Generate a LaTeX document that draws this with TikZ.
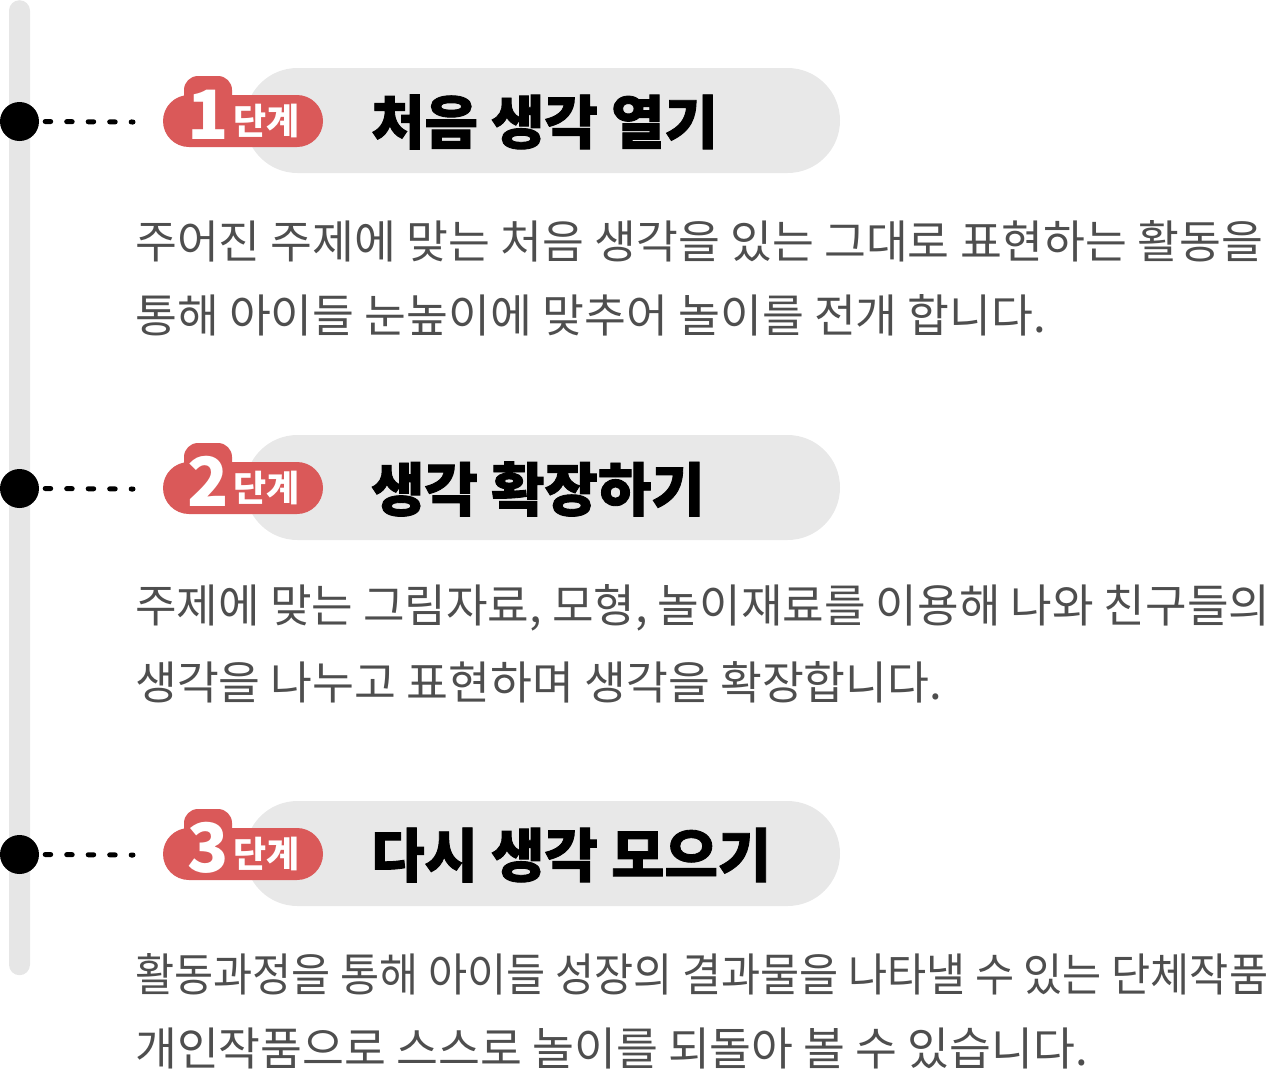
\documentclass[tikz,border=0pt]{standalone}
\usepackage{graphicx}
\usepackage{fontspec}
\newfontfamily\kr{Noto Sans CJK KR}
\newfontfamily\krheavy[BoldFeatures={FakeBold=1.5}]{Noto Sans CJK KR}
\definecolor{bargray}{HTML}{E6E6E6}
\definecolor{pillgray}{HTML}{E8E8E8}
\definecolor{badgered}{HTML}{DA5959}
\definecolor{bodygray}{HTML}{4E4E4E}
\tikzset{
  bar/.style={fill=bargray, rounded corners=10.5, minimum width=21, minimum height=975, inner sep=0, anchor=north},
  pill/.style={fill=pillgray, rounded corners=52.5, minimum width=595, minimum height=105, inner sep=0},
  badge/.style={fill=badgered, rounded corners=26, minimum width=160, minimum height=52, inner sep=0},
  digitback/.style={fill=badgered, rounded corners=14, minimum width=48, minimum height=70, inner sep=0},
  dotnode/.style={circle, fill=black, minimum size=39, inner sep=0},
  leader/.style={line width=5, line cap=round, dash pattern=on 5.5 off 16},
  digit/.style={font=\kr\bfseries\fontsize{68}{68}\selectfont, text=white, anchor=base, inner sep=0},
  stagelabel/.style={font=\kr\bfseries\fontsize{36}{36}\selectfont, text=white, anchor=west, inner sep=0},
  titletext/.style={font=\krheavy\bfseries\fontsize{58}{64}\selectfont, text=black, anchor=west, inner sep=0},
  bodytext/.style={font=\kr\fontsize{45.5}{52}\selectfont, text=bodygray, anchor=west, inner sep=0},
}
\begin{document}
\begin{tikzpicture}[x=1pt,y=-1pt]
\useasboundingbox (0,0) rectangle (1272,1069);
\node[bar] (bar) at (19.5,0) {};
% stage 1
\begin{scope}
  \node[pill] (p1) at (542.5,120.5) {};
  \node[badge] (b1) at (243,121) {};
  \node[digitback] (k1) at (208,111) {};
  \node[digit] (d1) at (208,139) {1};
  \node[stagelabel] (s1) at (233,121) {단계};
  \node[titletext] (t1) at (371,122) {처음 생각 열기};
  \node[dotnode] (c1) at (19.5,121.5) {};
  \coordinate (e1) at (133,122);
  \draw[leader] (c1.east) ++(6,0) -- (e1);
  \node[bodytext] (l1a) at (135,241) {주어진 주제에 맞는 처음 생각을 있는 그대로 표현하는 활동을};
  \node[bodytext] (l1b) at (135,315) {통해 아이들 눈높이에 맞추어 놀이를 전개 합니다.};
\end{scope}
% stage 2
\begin{scope}[yshift=-367pt]
  \node[pill] (p2) at (542.5,120.5) {};
  \node[badge] (b2) at (243,121) {};
  \node[digitback] (k2) at (208,111) {};
  \node[digit] (d2) at (208,139) {2};
  \node[stagelabel] (s2) at (233,121) {단계};
  \node[titletext] (t2) at (371,122) {생각 확장하기};
  \node[dotnode] (c2) at (19.5,121.5) {};
  \coordinate (e2) at (133,122);
  \draw[leader] (c2.east) ++(6,0) -- (e2);
  \node[bodytext] (l2a) at (135,241) {\resizebox{1135pt}{\height}{주제에 맞는 그림자료, 모형, 놀이재료를 이용해 나와 친구들의}};
  \node[bodytext] (l2b) at (135,315) {생각을 나누고 표현하며 생각을 확장합니다.};
\end{scope}
% stage 3
\begin{scope}[yshift=-733pt]
  \node[pill] (p3) at (542.5,120.5) {};
  \node[badge] (b3) at (243,121) {};
  \node[digitback] (k3) at (208,111) {};
  \node[digit] (d3) at (208,139) {3};
  \node[stagelabel] (s3) at (233,121) {단계};
  \node[titletext] (t3) at (371,122) {다시 생각 모으기};
  \node[dotnode] (c3) at (19.5,121.5) {};
  \coordinate (e3) at (133,122);
  \draw[leader] (c3.east) ++(6,0) -- (e3);
  \node[bodytext] (l3a) at (135,241) {\resizebox{1133pt}{\height}{활동과정을 통해 아이들 성장의 결과물을 나타낼 수 있는 단체작품}};
  \node[bodytext] (l3b) at (135,315) {개인작품으로 스스로 놀이를 되돌아 볼 수 있습니다.};
\end{scope}
\end{tikzpicture}
\end{document}
